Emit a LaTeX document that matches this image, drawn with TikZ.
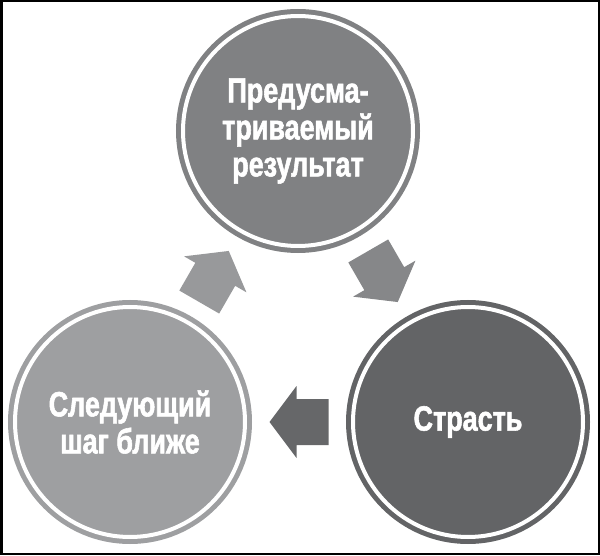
\documentclass[tikz,border=0pt]{standalone}
\usepackage{fontspec}
\newfontfamily\condsans[FakeStretch=0.77, BoldFeatures={FakeBold=1.6}]{Liberation Sans}
\usetikzlibrary{calc}
\definecolor{resgray}{RGB}{128,129,131}
\definecolor{pasgray}{RGB}{99,100,102}
\definecolor{nxtgray}{RGB}{158,159,161}
\definecolor{arrowup}{RGB}{152,153,155}
\definecolor{arrowdown}{RGB}{134,135,137}
\definecolor{arrowback}{RGB}{102,103,105}

\begin{document}
\begin{tikzpicture}[x=1pt, y=1pt,
      every node/.style={font=\condsans\bfseries\fontsize{35}{37}\selectfont},
      stage/.style={circle, fill=#1, draw=#1, double=white, line width=5pt,
        double distance=4pt, minimum size=230pt, inner sep=0pt,
        text=white, align=center}]
    \useasboundingbox (0,0) rectangle (600,555);
    \draw[line width=2.5pt] (1.25,1.25) rectangle (598.75,553.75); % frame
    \node[stage=resgray] (RES) at (298,424) {Предусма-\\триваемый\\результат}; % top
    \node[stage=pasgray] (PAS) at (468,133) {Страсть};                  % right
    \node[stage=nxtgray] (NXT) at (130,133) {Следующий\\шаг ближе};     % left
    % block arrows between the stages
    \foreach \from/\to/\ang/\col in {NXT/RES/60/arrowup, RES/PAS/-60/arrowdown, PAS/NXT/180/arrowback}
      \fill[\col, shift={($(\from)!0.5!(\to)$)}, rotate=\ang]
        (-29.5,-23) -- (2.5,-23) -- (2.5,-36) -- (29.5,0) -- (2.5,36) -- (2.5,23) -- (-29.5,23) -- cycle;
  \end{tikzpicture}
\end{document}
